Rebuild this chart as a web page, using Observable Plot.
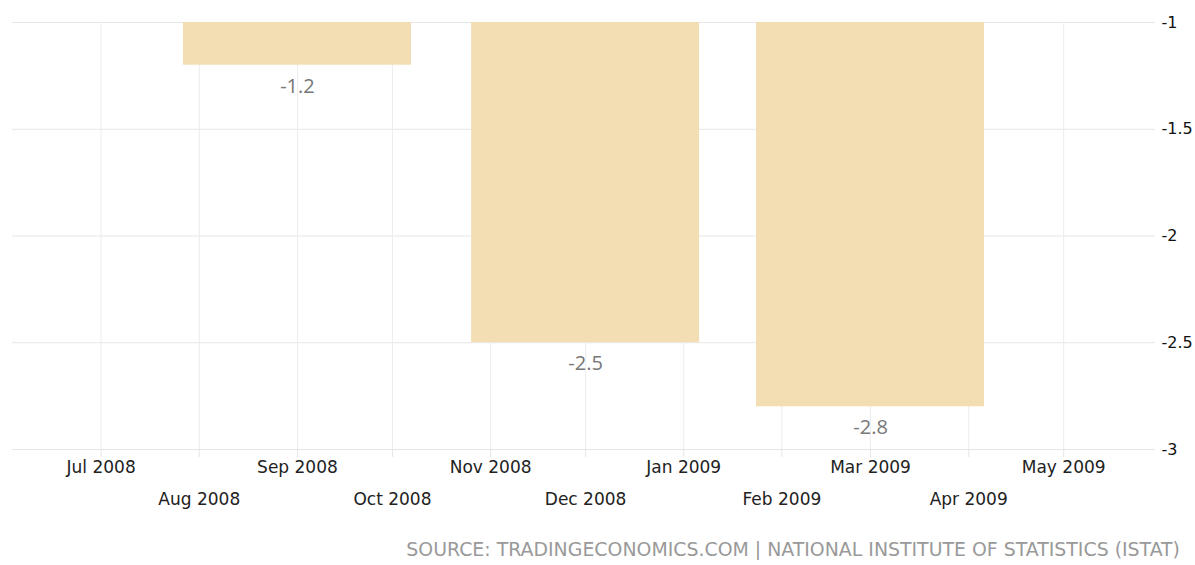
<!DOCTYPE html>
<html>
<head>
<meta charset="utf-8">
<script src="https://cdn.jsdelivr.net/npm/d3@7"></script>
<script src="https://cdn.jsdelivr.net/npm/@observablehq/plot@0.6"></script>
<style>
  html, body { margin: 0; padding: 0; background: #fff; }
  #chart { width: 1195px; height: 520px; }
  #source { width: 1180px; text-align: right; font-family: "DejaVu Sans", sans-serif; font-size: 18.9px; color: #999; margin-top: 18px; }
</style>
</head>
<body>
<div id="chart"></div>
<div id="source">SOURCE: TRADINGECONOMICS.COM | NATIONAL INSTITUTE OF STATISTICS (ISTAT)</div>
<script>
// Data (quarterly, plotted at middle month of each quarter)
const periods = ["2008-09-01", "2008-12-01", "2009-03-01"];
const values = [-1.2, -2.5, -2.8];
const baseline = -1;
const halfWidthDays = 36;

const yTicks = [-1, -1.5, -2, -2.5, -3];
const monthTicks = ["2008-07-01","2008-08-01","2008-09-01","2008-10-01","2008-11-01","2008-12-01",
                    "2009-01-01","2009-02-01","2009-03-01","2009-04-01","2009-05-01"];

const data = periods.map((p, i) => ({date: new Date(p + "T00:00:00Z"), value: values[i]}));
const months = monthTicks.map(m => new Date(m + "T00:00:00Z"));
const row1 = months.filter((d, i) => i % 2 === 0);
const row2 = months.filter((d, i) => i % 2 === 1);
const fmt = d3.utcFormat("%b %Y");

const chart = Plot.plot({
  width: 1195,
  height: 520,
  marginTop: 22,
  marginBottom: 71,
  marginLeft: 12,
  marginRight: 40,
  style: {fontFamily: "DejaVu Sans, sans-serif", background: "#fff"},
  x: {type: "utc", domain: [new Date("2008-06-03T00:00:00Z"), new Date("2009-05-30T00:00:00Z")]},
  y: {type: "linear", domain: [-3, -1]},
  marks: [
    Plot.gridY({ticks: yTicks, stroke: "#e6e6e6", strokeOpacity: 1}),
    Plot.gridX({ticks: months, stroke: "#ececec", strokeOpacity: 1}),
    Plot.axisX({ticks: months, anchor: "bottom", tickSize: 8, tickFormat: () => "", stroke: "#e6e6e6", label: null}),
    Plot.rect(data, {
      x1: d => d3.utcDay.offset(d.date, -halfWidthDays),
      x2: d => d3.utcDay.offset(d.date, halfWidthDays),
      y1: () => baseline,
      y2: "value",
      fill: "#f3ddb3"
    }),
    Plot.text(data, {
      x: "date", y: "value", text: d => String(d.value),
      dy: 21, fill: "#777", fontSize: 20, fontFamily: "Open Sans, sans-serif"
    }),
    Plot.axisY({
      ticks: yTicks, anchor: "right", tickSize: 0, tickPadding: 6, textAnchor: "start",
      tickFormat: d => String(d), fontSize: 16, fill: "#111", label: null
    }),
    Plot.axisX({
      ticks: row1, anchor: "bottom", tickSize: 0, tickPadding: 11, tickFormat: fmt,
      fontSize: 17, fill: "#222", label: null
    }),
    Plot.axisX({
      ticks: row2, anchor: "bottom", tickSize: 0, tickPadding: 43, tickFormat: fmt,
      fontSize: 17, fill: "#222", label: null
    })
  ]
});
document.getElementById("chart").appendChild(chart);
</script>
</body>
</html>
